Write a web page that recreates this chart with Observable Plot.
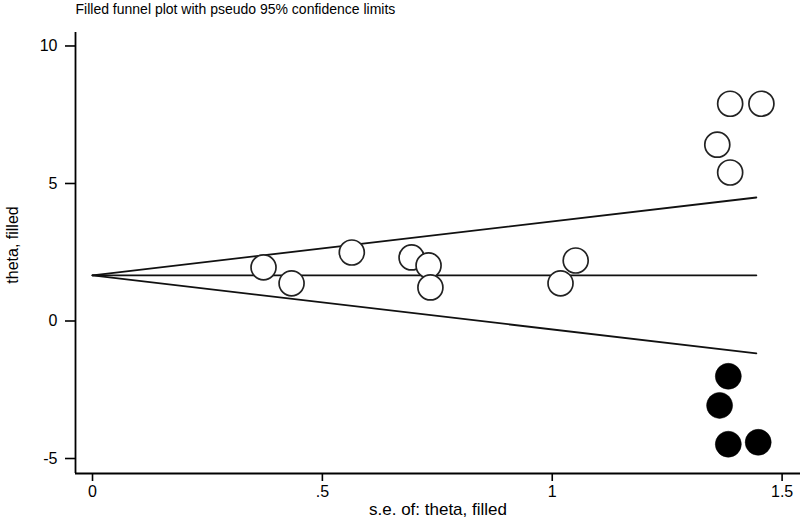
<!DOCTYPE html>
<html><head><meta charset="utf-8">
<script src="https://cdn.jsdelivr.net/npm/d3@7"></script>
<script src="https://cdn.jsdelivr.net/npm/@observablehq/plot@0.6"></script>
<style>body{margin:0;background:#fff;} #chart svg{display:block;}</style>
</head><body><div id="chart"></div>
<script>
const titleText = "Filled funnel plot with pseudo 95% confidence limits";
const xLabel = "s.e. of: theta, filled";
const yLabel = "theta, filled";
const xTicks = [0, 0.5, 1, 1.5];
const xTickLabels = ["0", ".5", "1", "1.5"];
const yTicks = [-5, 0, 5, 10];
const yTickLabels = ["-5", "0", "5", "10"];
const xDomain = [-0.037, 1.54];
const yDomain = [-5.545, 10.49];

// observed studies (open circles)
const seObserved    = [0.372, 0.433, 0.564, 0.694, 0.731, 0.735, 1.018, 1.051, 1.387, 1.455, 1.359, 1.387];
const thetaObserved = [1.95, 1.37, 2.49, 2.31, 2.02, 1.22, 1.37, 2.20, 7.90, 7.90, 6.41, 5.40];
// filled (imputed) studies (solid circles)
const seFilled    = [1.383, 1.364, 1.383, 1.448];
const thetaFilled = [-2.01, -3.07, -4.48, -4.41];
// funnel lines (endpoints)
const funnelSe    = [0, 1.444];
const funnelUpper = [1.66, 4.49];
const funnelMid   = [1.66, 1.66];
const funnelLower = [1.66, -1.18];

const observed = seObserved.map((s, i) => ({se: s, theta: thetaObserved[i]}));
const filled = seFilled.map((s, i) => ({se: s, theta: thetaFilled[i]}));
const funnel = [];
[["upper", funnelUpper], ["mid", funnelMid], ["lower", funnelLower]].forEach(([k, arr]) =>
  funnelSe.forEach((s, i) => funnel.push({line: k, se: s, theta: arr[i]})));

const font = "'Liberation Sans', Arial, Helvetica, sans-serif";
const chart = Plot.plot({
  width: 800, height: 521,
  marginLeft: 75, marginRight: 0, marginTop: 32, marginBottom: 48,
  style: {fontFamily: font, fontSize: "14px", color: "#000", background: "#fff"},
  x: {domain: xDomain},
  y: {domain: yDomain},
  marks: [
    Plot.axisX({ticks: xTicks, tickSize: 8, tickPadding: 4, strokeWidth: 1.6, label: null,
      tickFormat: d => xTickLabels[xTicks.indexOf(d)], fontSize: 16}),
    Plot.axisY({ticks: yTicks, tickSize: 10, tickPadding: 8, strokeWidth: 1.6, label: null,
      tickFormat: d => yTickLabels[yTicks.indexOf(d)], fontSize: 16}),
    Plot.ruleX([xDomain[0]], {stroke: "#000", strokeWidth: 1.8}),
    Plot.ruleY([yDomain[0]], {stroke: "#000", strokeWidth: 1.8}),
    Plot.line(funnel, {x: "se", y: "theta", z: "line", stroke: "#111", strokeWidth: 1.8}),
    Plot.dot(observed, {x: "se", y: "theta", r: 12.5, fill: "#fff", stroke: "#222", strokeWidth: 1.7}),
    Plot.dot(filled, {x: "se", y: "theta", r: 13, fill: "#000", stroke: "#000", strokeWidth: 0.5}),
    Plot.text([titleText], {frameAnchor: "top-left", textAnchor: "start", lineAnchor: "top", dy: -28, fontSize: 14}),
    Plot.text([xLabel], {frameAnchor: "bottom", textAnchor: "middle", lineAnchor: "bottom", dy: 41, fontSize: 17}),
    Plot.text([yLabel], {frameAnchor: "left", textAnchor: "middle", lineAnchor: "middle", rotate: -90, dx: -63, dy: -8, fontSize: 16})
  ]
});
document.getElementById("chart").appendChild(chart);
</script>
</body></html>
